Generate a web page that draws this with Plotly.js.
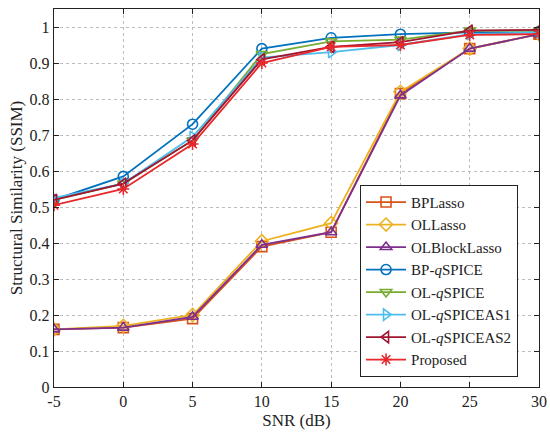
<!DOCTYPE html>
<html><head><meta charset="utf-8">
<script src="https://cdn.plot.ly/plotly-3.0.1.min.js"></script>
<style>body{margin:0;padding:0;background:#fff}#chart{width:550px;height:441px}</style>
</head><body><div id="chart"></div>
<script>
const snr = [-5, 0, 5, 10, 15, 20, 25, 30];
const bpLasso = [0.16, 0.165, 0.19, 0.39, 0.43, 0.815, 0.94, 0.98];
const olLasso = [0.16, 0.17, 0.20, 0.405, 0.455, 0.82, 0.94, 0.98];
const olBlockLasso = [0.16, 0.165, 0.195, 0.395, 0.43, 0.81, 0.94, 0.98];
const bpQspice = [0.52, 0.585, 0.73, 0.94, 0.97, 0.98, 0.985, 0.985];
const olQspice = [0.52, 0.565, 0.685, 0.925, 0.96, 0.965, 0.99, 0.99];
const olQspiceAS1 = [0.525, 0.565, 0.695, 0.915, 0.93, 0.95, 0.98, 0.985];
const olQspiceAS2 = [0.52, 0.565, 0.685, 0.91, 0.945, 0.958, 0.99, 0.992];
const proposed = [0.505, 0.55, 0.675, 0.90, 0.945, 0.95, 0.978, 0.98];
const xTicks = [-5, 0, 5, 10, 15, 20, 25, 30];
const yTicks = [0, 0.1, 0.2, 0.3, 0.4, 0.5, 0.6, 0.7, 0.8, 0.9, 1];
const yTickText = ['0','0.1','0.2','0.3','0.4','0.5','0.6','0.7','0.8','0.9','1'];

const series = [
  {name: 'BPLasso', y: bpLasso, color: '#D95319', symbol: 'square-open'},
  {name: 'OLLasso', y: olLasso, color: '#EDB120', symbol: 'diamond-open'},
  {name: 'OLBlockLasso', y: olBlockLasso, color: '#7E2F8E', symbol: 'triangle-up-open'},
  {name: 'BP-<i>q</i>SPICE', y: bpQspice, color: '#0072BD', symbol: 'circle-open'},
  {name: 'OL-<i>q</i>SPICE', y: olQspice, color: '#77AC30', symbol: 'triangle-down-open'},
  {name: 'OL-<i>q</i>SPICEAS1', y: olQspiceAS1, color: '#4DBEEE', symbol: 'triangle-right-open'},
  {name: 'OL-<i>q</i>SPICEAS2', y: olQspiceAS2, color: '#A2142F', symbol: 'triangle-left-open'},
  {name: 'Proposed', y: proposed, color: '#E8282B', symbol: 'asterisk-open'}
];

const traces = series.map(s => ({
  x: snr, y: s.y, name: s.name, type: 'scatter', mode: 'lines+markers',
  line: {color: s.color, width: 1.8},
  marker: {symbol: s.symbol, size: 10, color: s.color, line: {color: s.color, width: 1.6}}
}));

const fam = '"Liberation Serif", "Times New Roman", serif';
const tickFont = {family: fam, size: 16, color: '#222'};
const titleFont = {family: fam, size: 17, color: '#222'};

const layout = {
  width: 550, height: 441,
  margin: {l: 54, r: 11, t: 9, b: 54},
  paper_bgcolor: '#fff', plot_bgcolor: '#fff',
  font: tickFont,
  showlegend: true,
  xaxis: {
    range: [-5, 30], tickvals: xTicks, ticktext: xTicks.map(String),
    ticks: 'inside', ticklen: 5, tickcolor: '#222',
    showline: true, linecolor: '#222', linewidth: 1.2, mirror: 'ticks',
    showgrid: true, gridcolor: '#bdbdbd', griddash: 'dot', gridwidth: 1,
    zeroline: false, tickfont: tickFont,
    title: {text: 'SNR (dB)', font: titleFont, standoff: 4}
  },
  yaxis: {
    range: [0, 1.05], tickvals: yTicks, ticktext: yTickText,
    ticks: 'inside', ticklen: 5, tickcolor: '#222',
    showline: true, linecolor: '#222', linewidth: 1.2, mirror: 'ticks',
    showgrid: true, gridcolor: '#bdbdbd', griddash: 'dot', gridwidth: 1,
    zeroline: false, tickfont: tickFont,
    title: {text: 'Structural Similarity (SSIM)', font: titleFont, standoff: 2}
  },
  legend: {
    x: 0.631, y: 0.027, xanchor: 'left', yanchor: 'bottom',
    bgcolor: '#fff', bordercolor: '#222', borderwidth: 1,
    font: {family: fam, size: 15, color: '#222'},
    tracegroupgap: 0, itemwidth: 40
  }
};

Plotly.newPlot('chart', traces, layout, {displayModeBar: false, staticPlot: true});
</script>
</body></html>
